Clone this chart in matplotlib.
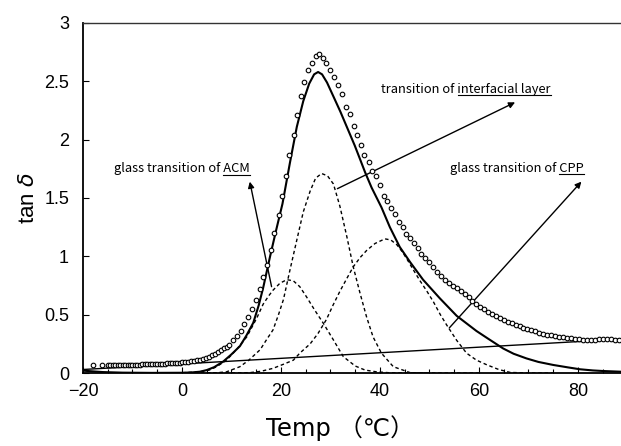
import matplotlib
matplotlib.use("Agg")
import matplotlib.pyplot as plt
from matplotlib.lines import Line2D
from matplotlib.ticker import MultipleLocator

# ---- measured tan(delta) ----
meas_temp = [-18.0, -16.2, -15.0, -14.5, -14.0, -13.5, -13.0, -12.5, -12.0, -11.5, -11.0,
             -10.5, -10.0, -9.5, -9.0, -8.5, -8.0, -7.5, -7.0, -6.5, -6.0, -5.5, -5.0,
             -4.5, -4.0, -3.5, -3.0, -2.5, -2.0, -1.5, -1.0, -0.5, 0.0, 0.6, 1.2, 1.8,
             2.4, 3.0, 3.6, 4.2, 4.8, 5.4, 6.0, 6.6, 7.2, 7.8, 8.4, 9.0, 9.5, 10.3, 11.1,
             11.9, 12.6, 13.3, 14.1, 14.9, 15.7, 16.4, 17.1, 18.0, 18.6, 19.5, 20.2, 21.0,
             21.7, 22.6, 23.2, 24.0, 24.7, 25.5, 26.3, 27.1, 27.7, 28.4, 29.1, 30.0, 30.8,
             31.6, 32.3, 33.1, 33.9, 34.7, 35.3, 36.1, 36.8, 37.7, 38.4, 39.1, 40.0, 40.8,
             41.5, 42.2, 43.0, 43.8, 44.6, 45.3, 46.1, 46.9, 47.6, 48.3, 49.2, 50.0, 50.8,
             51.6, 52.3, 53.1, 53.9, 54.7, 55.5, 56.3, 57.1, 57.9, 58.6, 59.4, 60.2, 61.0,
             61.8, 62.6, 63.4, 64.2, 65.0, 65.8, 66.6, 67.4, 68.2, 69.0, 69.8, 70.6, 71.4,
             72.2, 73.0, 73.8, 74.6, 75.4, 76.2, 77.0, 77.8, 78.6, 79.4, 80.2, 81.0, 81.8,
             82.6, 83.4, 84.2, 85.0, 85.8, 86.6, 87.4, 88.2]
meas_tand = [0.065, 0.066, 0.066, 0.067, 0.067, 0.067, 0.068, 0.068, 0.068, 0.069, 0.069,
             0.070, 0.070, 0.071, 0.071, 0.072, 0.073, 0.073, 0.074, 0.075, 0.076, 0.077,
             0.078, 0.079, 0.080, 0.081, 0.082, 0.083, 0.085, 0.086, 0.088, 0.089, 0.091,
             0.093, 0.096, 0.099, 0.103, 0.108, 0.114, 0.121, 0.130, 0.140, 0.152, 0.166,
             0.182, 0.198, 0.212, 0.226, 0.24, 0.28, 0.32, 0.36, 0.42, 0.48, 0.55, 0.63,
             0.72, 0.82, 0.93, 1.05, 1.20, 1.35, 1.52, 1.69, 1.87, 2.04, 2.21, 2.37, 2.49,
             2.60, 2.66, 2.72, 2.73, 2.70, 2.66, 2.60, 2.54, 2.47, 2.39, 2.28, 2.22, 2.12,
             2.04, 1.95, 1.87, 1.81, 1.73, 1.69, 1.61, 1.52, 1.47, 1.41, 1.36, 1.29, 1.25,
             1.19, 1.16, 1.11, 1.07, 1.02, 0.99, 0.95, 0.91, 0.87, 0.83, 0.80, 0.77, 0.75,
             0.73, 0.70, 0.68, 0.65, 0.62, 0.595, 0.565, 0.545, 0.525, 0.505, 0.487, 0.47,
             0.455, 0.44, 0.428, 0.415, 0.402, 0.39, 0.378, 0.367, 0.356, 0.347, 0.338,
             0.33, 0.323, 0.316, 0.31, 0.305, 0.30, 0.296, 0.292, 0.288, 0.285, 0.283,
             0.283, 0.285, 0.288, 0.29, 0.29, 0.288, 0.286, 0.285]

# ---- fitted sum ----
fit_temp = [-20, -16, -12, -6, 0, 2, 3.6, 5, 6.5, 8.3, 10, 11.7, 13, 14.4, 15.5, 16.4,
            17.8, 19.0, 20.3, 21.8, 23.2, 24.5, 25.7, 26.7, 27.5, 28.3, 29.3, 30.6, 32.0,
            33.3, 34.9, 36.0, 37.0, 38.3, 40.3, 42.0, 44.0, 46.1, 48.7, 52.1, 55.5, 59.5,
            62.0, 64.9, 67.0, 69.6, 72.0, 75.0, 78.0, 80.4, 83.0, 85.1, 88.7]
fit_tand = [0.02, 0.008, 0.003, 0.001, 0.002, 0.005, 0.011, 0.025, 0.05, 0.097, 0.16, 0.23,
            0.32, 0.43, 0.58, 0.73, 1.00, 1.22, 1.45, 1.80, 2.11, 2.33, 2.48, 2.56, 2.58,
            2.56, 2.49, 2.37, 2.24, 2.11, 1.95, 1.83, 1.72, 1.59, 1.42, 1.25, 1.08, 0.95,
            0.80, 0.64, 0.49, 0.36, 0.29, 0.21, 0.165, 0.125, 0.095, 0.069, 0.048, 0.032,
            0.022, 0.017, 0.011]

# ---- separated peaks ----
acm_temp = [-5, 0, 3.6, 5.5, 7.0, 9.0, 11.0, 13.1, 15.1, 16.4, 17.5, 18.4, 19.8, 21.2,
            22.5, 23.8, 25.2, 26.8, 28.5, 30.5, 32.6, 35.0, 37.0, 39.3, 42.0, 50.0]
acm_tand = [0.0, 0.002, 0.01, 0.025, 0.054, 0.11, 0.20, 0.31, 0.47, 0.59, 0.66, 0.71,
            0.77, 0.80, 0.79, 0.74, 0.65, 0.54, 0.43, 0.29, 0.14, 0.06, 0.025, 0.01,
            0.002, 0.0]

inter_temp = [0, 7.0, 9.0, 11.7, 13.5, 15.8, 17.0, 18.4, 19.5, 20.5, 21.8, 23.2, 24.5,
              25.9, 27.0, 28.2, 29.4, 30.6, 31.9, 33.3, 34.6, 36.0, 37.3, 38.6, 40.3,
              42.7, 46.1, 50.0, 60.0]
inter_tand = [0.0, 0.002, 0.01, 0.054, 0.11, 0.20, 0.28, 0.37, 0.50, 0.63, 0.88, 1.14,
              1.38, 1.56, 1.67, 1.71, 1.69, 1.62, 1.43, 1.17, 0.91, 0.68, 0.48, 0.31,
              0.17, 0.054, 0.003, 0.0, 0.0]

cpp_temp = [5, 8, 13.7, 16.0, 18.4, 20.5, 22.5, 23.8, 25.9, 27.5, 29.2, 30.5, 31.9, 33.3,
            34.6, 36.0, 37.3, 39.0, 41.0, 42.2, 43.4, 44.5, 45.4, 46.8, 48.1, 49.5, 50.8,
            52.2, 53.5, 55.5, 57.5, 59.5, 61.6, 64.0, 66.3, 70.0, 75.0]
cpp_tand = [0.0, 0.0, 0.003, 0.015, 0.04, 0.075, 0.11, 0.17, 0.25, 0.34, 0.46, 0.58, 0.70,
            0.81, 0.91, 0.99, 1.05, 1.11, 1.15, 1.14, 1.10, 1.04, 0.98, 0.88, 0.79, 0.70,
            0.61, 0.50, 0.41, 0.28, 0.17, 0.11, 0.07, 0.03, 0.005, 0.0, 0.0]

# ---- linear baseline ----
base_temp = [-20, 88.7]
base_tand = [0.03, 0.29]

x_ticks = [-20, 0, 20, 40, 60, 80]
x_ticklabels = ["\u221220", "0", "20", "40", "60", "80"]
y_ticks = [0, 0.5, 1, 1.5, 2, 2.5, 3]
y_ticklabels = ["0", "0.5", "1", "1.5", "2", "2.5", "3"]

W, H = 621, 446
fig = plt.figure(figsize=(W / 100, H / 100), dpi=100)
ax = fig.add_axes([83 / W, 1 - 373 / H, 1 - 83 / W, (373 - 23) / H])

ax.plot(meas_temp, meas_tand, linestyle="none", marker="o", markersize=3.3,
        markerfacecolor="white", markeredgecolor="black", markeredgewidth=0.8, zorder=4)
ax.plot(fit_temp, fit_tand, color="black", lw=1.5, zorder=3)
dash = (0, (2.5, 2))
ax.plot(acm_temp, acm_tand, color="black", lw=1.0, linestyle=dash, zorder=2)
ax.plot(inter_temp, inter_tand, color="black", lw=1.0, linestyle=dash, zorder=2)
ax.plot(cpp_temp, cpp_tand, color="black", lw=1.0, linestyle=dash, zorder=2)
ax.plot(base_temp, base_tand, color="black", lw=1.0, zorder=2)

ax.set_xlim(-20, 88.7)
ax.set_ylim(0, 3)
ax.set_xticks(x_ticks)
ax.set_xticklabels(x_ticklabels)
ax.xaxis.set_minor_locator(MultipleLocator(5))
ax.set_yticks(y_ticks)
ax.set_yticklabels(y_ticklabels)
ax.tick_params(axis="both", which="major", direction="in", length=4, width=0.8,
               labelsize=13, pad=7)
ax.tick_params(axis="x", which="minor", direction="in", length=3, width=0.8)
ax.tick_params(axis="y", which="major", pad=10)
for lab in ax.get_xticklabels() + ax.get_yticklabels():
    lab.set_fontfamily(["Liberation Sans", "DejaVu Sans"])

ax.spines["right"].set_visible(False)
ax.spines["left"].set_linewidth(1.3)
ax.spines["bottom"].set_linewidth(1.3)
ax.spines["top"].set_linewidth(1.0)
ax.spines["top"].set_color("#333333")

fig.text(340 / W, 1 - 428 / H, "Temp \uff08\u2103\uff09", ha="center", va="center",
         fontsize=17.5, family=["DejaVu Sans", "Noto Sans CJK JP"])
fig.text(29 / W, 1 - 198 / H, "tan $\\delta$", ha="center", va="center", rotation=90,
         fontsize=16, family=["Liberation Sans", "DejaVu Sans"])

renderer = fig.canvas.get_renderer()
label_font = dict(fontsize=9.3, family=["Noto Sans CJK JP", "DejaVu Sans"])


def underlined_label(x, y, prefix, word):
    full = ax.text(x, y, prefix + word, ha="left", va="baseline", **label_font)
    probe = ax.text(x, y, prefix, ha="left", va="baseline", **label_font)
    bb_full = full.get_window_extent(renderer)
    bb_pre = probe.get_window_extent(renderer)
    probe.remove()
    _, y_disp = ax.transData.transform((x, y))
    x0, x1 = bb_pre.x1, bb_full.x1
    yl = y_disp - 2.5
    inv = fig.transFigure.inverted()
    (fx0, fy), (fx1, _) = inv.transform([(x0, yl), (x1, yl)])
    fig.add_artist(Line2D([fx0, fx1], [fy, fy], color="black", lw=0.8))


underlined_label(-13.7, 1.72, "glass transition of ", "ACM")
underlined_label(40.3, 2.40, "transition of ", "interfacial layer")
underlined_label(54.1, 1.725, "glass transition of ", "CPP")

arrow = dict(arrowstyle="-|>", color="black", lw=1.0, mutation_scale=9,
             shrinkA=0, shrinkB=0)
ax.annotate("", xy=(13.7, 1.64), xytext=(18.1, 0.74), arrowprops=arrow)
ax.annotate("", xy=(67.3, 2.32), xytext=(31.4, 1.58), arrowprops=arrow)
ax.annotate("", xy=(80.7, 1.64), xytext=(54.0, 0.386), arrowprops=arrow)

fig.savefig("out.png", dpi=100)
